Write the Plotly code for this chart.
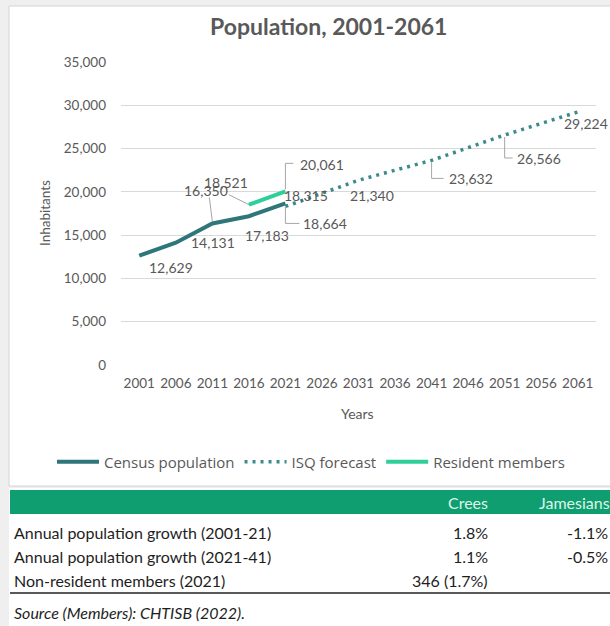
import plotly.graph_objects as go

# ---- data ----
tick_years = [2001, 2006, 2011, 2016, 2021, 2026, 2031, 2036, 2041, 2046, 2051, 2056, 2061]
y_ticks = [0, 5000, 10000, 15000, 20000, 25000, 30000, 35000]

census_years = [2001, 2006, 2011, 2016, 2021]
census_pop = [12629, 14131, 16350, 17183, 18664]

member_years = [2016, 2021]
member_pop = [18521, 20061]

forecast_years = [2021, 2026, 2031, 2036, 2041, 2046, 2051, 2056, 2061]
forecast_pop = [18315, 19850, 21340, 22500, 23632, 25100, 26566, 27900, 29224]

table_cols = ["Crees", "Jamesians"]
table_rows = [
    "Annual population growth (2001-21)",
    "Annual population growth (2021-41)",
    "Non-resident members (2021)",
]
crees_vals = ["1.8%", "1.1%", "346 (1.7%)"]
jamesians_vals = ["-1.1%", "-0.5%", ""]
source_note = "Source (Members): CHTISB (2022)."

# ---- styling ----
W, H = 610, 626
FONT = "Lato"
GREY_TXT = "#595959"
CENSUS_C = "#2f767b"
MEMBER_C = "#2fcf9c"
FORECAST_C = "#3b8a8c"
GREEN = "#0f9e70"


def px(x):
    return x / W


def py(y):
    return 1 - y / H


def paper_text(x, y, text, size, color, xanchor="center", family=FONT, **kw):
    return dict(x=px(x), y=py(y), xref="paper", yref="paper", text=text,
                xanchor=xanchor, yanchor="middle", showarrow=False,
                font=dict(family=family, size=size, color=color), **kw)


fig = go.Figure()

fig.add_trace(go.Scatter(
    x=census_years, y=census_pop, mode="lines", name="Census population",
    line=dict(color=CENSUS_C, width=4), legendrank=1, hoverinfo="skip"))
fig.add_trace(go.Scatter(
    x=forecast_years, y=forecast_pop, mode="lines", name="ISQ forecast",
    line=dict(color=FORECAST_C, width=3.5, dash="3px,5px"), legendrank=2, hoverinfo="skip"))
fig.add_trace(go.Scatter(
    x=member_years, y=member_pop, mode="lines", name="Resident members",
    line=dict(color=MEMBER_C, width=4), legendrank=3, hoverinfo="skip"))

# data-label placement: (series, year) -> (dx, dy) screen offset, optional leader path
series_data = {
    "census": dict(zip(census_years, census_pop)),
    "member": dict(zip(member_years, member_pop)),
    "forecast": dict(zip(forecast_years, forecast_pop)),
}
label_layout = [
    ("census", 2001, (32, 12), None),
    ("census", 2006, (37, 0), None),
    ("census", 2011, (-6, -33), [(-3, -26), (0, -2)]),
    ("census", 2016, (18, 19), None),
    ("census", 2021, (40, 20), [(0, 3), (0, 20), (14, 20)]),
    ("member", 2016, (-23, -22), [(-20, -10), (-12, -6), (0, 0)]),
    ("member", 2021, (37, -27), [(0, -2), (0, -28), (8, -28)]),
    ("forecast", 2021, (21, -11), None),
    ("forecast", 2031, (13, 15), None),
    ("forecast", 2041, (39, 18), [(0, 2), (0, 18), (12, 18)]),
    ("forecast", 2051, (34, 23), [(0, 2), (0, 23), (8, 23)]),
    ("forecast", 2061, (8, 12), None),
]

annotations = []
shapes = []

# page background pieces
shapes.append(dict(type="rect", xref="paper", yref="paper", x0=px(9), x1=px(W + 5),
                   y0=py(486), y1=py(6), fillcolor="white",
                   line=dict(color="#d4d4d4", width=1), layer="below"))
shapes.append(dict(type="rect", xref="paper", yref="paper", x0=px(9), x1=px(W + 5),
                   y0=py(H + 5), y1=py(488), fillcolor="white",
                   line=dict(width=0), layer="below"))

for series, yr, (dx, dy), leader in label_layout:
    val = series_data[series][yr]
    annotations.append(dict(
        x=yr, y=val, xref="x", yref="y", text=f"{val:,}", showarrow=False,
        xanchor="center", yanchor="middle",
        xshift=dx, yshift=-dy, font=dict(family=FONT, size=14, color=GREY_TXT)))
    if leader:
        for (ax0, ay0), (ax1, ay1) in zip(leader[:-1], leader[1:]):
            shapes.append(dict(
                type="line", xref="x", yref="y", xsizemode="pixel", ysizemode="pixel",
                xanchor=yr, yanchor=val, x0=ax0, x1=ax1, y0=-ay0, y1=-ay1,
                line=dict(color="#a6a6a6", width=1)))

# title and axis titles
annotations.append(paper_text(328, 26, "<b>Population, 2001-2061</b>", 23, GREY_TXT))
annotations.append(paper_text(45, 213, "Inhabitants", 13.5, GREY_TXT, textangle=-90))
annotations.append(paper_text(357, 413, "Years", 14, GREY_TXT))

# summary table below the chart
shapes.append(dict(type="rect", xref="paper", yref="paper", x0=px(10), x1=px(W + 5),
                   y0=py(514), y1=py(490), fillcolor=GREEN, line=dict(width=0)))
col_right = [490, 612]
for name, xr in zip(table_cols, col_right):
    annotations.append(paper_text(xr, 503, name, 16, "#dff3ea", xanchor="right"))
row_y = [532, 556, 580]
for label, cv, jv, ry in zip(table_rows, crees_vals, jamesians_vals, row_y):
    annotations.append(paper_text(12, ry, label, 16, "#1e1e1e", xanchor="left"))
    annotations.append(paper_text(col_right[0], ry, cv, 16, "#1e1e1e", xanchor="right"))
    if jv:
        annotations.append(paper_text(col_right[1] - 2, ry, jv, 16, "#1e1e1e", xanchor="right"))
shapes.append(dict(type="line", xref="paper", yref="paper", x0=px(10), x1=px(W + 5),
                   y0=py(593), y1=py(593), line=dict(color="#222222", width=1.3)))
annotations.append(paper_text(12, 612, f"<i>{source_note}</i>", 16, "#1e1e1e", xanchor="left"))

fig.update_layout(
    width=W, height=H,
    margin=dict(l=0, r=0, t=0, b=0, autoexpand=False),
    paper_bgcolor="#efefef",
    plot_bgcolor="white",
    showlegend=True,
    legend=dict(orientation="h", x=px(311), xanchor="center", y=py(462), yanchor="middle",
                font=dict(family="Open Sans", size=15, color=GREY_TXT),
                bgcolor="rgba(0,0,0,0)", itemwidth=42, tracegroupgap=0),
    xaxis=dict(domain=[px(121), px(596)], range=[1998.5, 2063.5],
               tickvals=tick_years, ticktext=[str(y) for y in tick_years],
               showgrid=False, zeroline=False, showline=False, ticks="",
               ticklabelstandoff=8, automargin=False,
               tickfont=dict(family=FONT, size=13.5, color=GREY_TXT)),
    yaxis=dict(domain=[py(365), py(62)], range=[0, 35000],
               tickvals=y_ticks, tickformat=",",
               showgrid=True, gridcolor="#d9d9d9", gridwidth=1,
               zeroline=False, showline=False, ticks="",
               ticklabelstandoff=14, automargin=False,
               tickfont=dict(family=FONT, size=13.5, color=GREY_TXT)),
    annotations=annotations,
    shapes=shapes,
)

fig.write_html("out.html")
